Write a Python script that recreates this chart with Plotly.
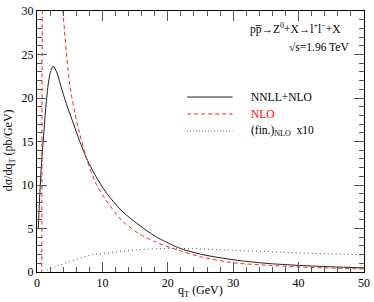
import plotly.graph_objects as go

# NNLL+NLO (solid)
qt_nnll = [0.2, 0.4, 0.7, 1.0, 1.3, 1.7, 2.0, 2.46, 3.0, 3.6, 4.5, 5.6, 6.5, 7.5, 8.0, 9.0, 10.5, 13.0,
           15.6, 18.1, 21.6, 25.0, 30.1, 35.0, 40.1, 45.0, 50.0]
y_nnll = [5.0, 8.5, 12.6, 15.5, 18.5, 21.5, 22.8, 23.65, 23.0, 21.5, 19.3, 17.0, 15.1, 13.2, 12.4, 11.0, 9.2, 7.0,
          5.4, 4.1, 2.8, 2.05, 1.4, 1.0, 0.76, 0.6, 0.47]

# NLO (dashed) - diverges at small qT
qt_nlo = [0.65, 0.72, 0.8, 0.95, 1.5, 2.5, 3.97, 5.0, 6.1, 7.75, 9.0, 10.5, 13.0, 15.6, 18.1, 21.6,
          25.0, 30.1, 35.0, 40.1, 45.0, 50.0]
y_nlo = [-5.0, 0.0, 30.0, 55.0, 70.0, 50.0, 30.0, 21.5, 17.2, 12.6, 10.2, 8.3, 5.9, 4.4, 3.45, 2.5,
         1.75, 1.05, 0.78, 0.58, 0.45, 0.35]

# (fin.)_NLO x10 (dotted)
qt_fin = [1.5, 3.0, 5.0, 8.0, 10.0, 14.5, 19.6, 25.0, 29.7, 35.0, 39.7, 45.0, 50.0]
y_fin = [0.2, 0.65, 1.2, 1.9, 2.1, 2.5, 2.7, 2.65, 2.5, 2.35, 2.2, 2.08, 1.96]

x_ticks = [0, 10, 20, 30, 40, 50]
y_ticks = [0, 5, 10, 15, 20, 25, 30]

FONT = "Liberation Serif"

fig = go.Figure()
fig.add_trace(go.Scatter(x=qt_nnll, y=y_nnll, mode="lines",
                         line=dict(color="#222222", width=1, shape="spline", smoothing=0.8), showlegend=False))
fig.add_trace(go.Scatter(x=qt_nlo, y=y_nlo, mode="lines", line=dict(color="#ff2020", width=1, dash="4px,3px",
                         shape="spline", smoothing=0.6), showlegend=False))
fig.add_trace(go.Scatter(x=qt_fin, y=y_fin, mode="lines", line=dict(color="#555555", width=1, dash="1px,3px",
                         shape="spline"), showlegend=False))

L, R, T, B = 37, 6, 4, 29.5
W, H = 374, 302
pw, ph = W - L - R, H - T - B

def px(xp):
    return (xp - L) / pw

def py(yp):
    return (H - B - yp) / ph

axis_common = dict(showgrid=False, zeroline=False, showline=True, linecolor="black", linewidth=1,
                   mirror="ticks", ticks="inside", ticklen=10, tickcolor="#555555", tickwidth=1,
                   ticklabeloverflow="allow",
                   tickfont=dict(family=FONT, size=12, color="black"))

fig.update_xaxes(range=[0, 50], tickvals=x_ticks, ticktext=[str(v) for v in x_ticks],
                 minor=dict(dtick=2, tick0=0, ticks="inside", ticklen=5, tickcolor="#555555", tickwidth=1),
                 **axis_common)
fig.update_yaxes(range=[0, 30], tickvals=y_ticks, ticktext=[str(v) for v in y_ticks],
                 minor=dict(dtick=1, tick0=0, ticks="inside", ticklen=5, tickcolor="#555555", tickwidth=1),
                 **axis_common)

shapes = []
legend_rows = [
    (92.5, "NNLL+NLO", dict(color="#222222", width=1), "black"),
    (110.0, "NLO", dict(color="#ff2020", width=1, dash="4px,3px"), "#ff0000"),
    (127.5, "(fin.)<sub>NLO</sub>  x10", dict(color="#555555", width=1, dash="1px,2px"), "black"),
]
annotations = []
for yp, label, ln, tc in legend_rows:
    shapes.append(dict(type="line", xref="paper", yref="paper", x0=px(189), x1=px(235), y0=py(yp), y1=py(yp),
                       line=ln))
    annotations.append(dict(xref="paper", yref="paper", x=px(252), y=py(yp), xanchor="left", yanchor="middle",
                            text=label, showarrow=False, font=dict(family=FONT, size=11.5, color=tc)))

annotations.append(dict(xref="paper", yref="paper", x=px(251), y=py(22.5), xanchor="left", yanchor="middle",
                        text="pp\u0305\u2192Z<sup>0</sup>+X\u2192l<sup>+</sup>l<sup>\u2212</sup>+X", showarrow=False,
                        font=dict(family=FONT, size=11.5, color="black")))
annotations.append(dict(xref="paper", yref="paper", x=px(355), y=py(41.5), xanchor="right", yanchor="middle",
                        text="\u221as=1.96 TeV", showarrow=False, font=dict(family=FONT, size=11.5, color="black")))
annotations.append(dict(xref="paper", yref="paper", x=px(202.5), y=py(292), xanchor="center", yanchor="middle",
                        text="q<sub>T</sub> (GeV)", showarrow=False, font=dict(family=FONT, size=12, color="black")))
annotations.append(dict(xref="paper", yref="paper", x=px(9), y=py(147), xanchor="center", yanchor="middle",
                        text="d\u03c3/dq<sub>T</sub> (pb/GeV)", textangle=-90, showarrow=False,
                        font=dict(family=FONT, size=12, color="black")))

fig.update_layout(width=W, height=H, margin=dict(l=L, r=R, t=T, b=B, pad=0), plot_bgcolor="white",
                  paper_bgcolor="white", shapes=shapes, annotations=annotations, showlegend=False)

fig.write_html("out.html", config={"displayModeBar": False},
               post_script="document.body.style.margin='0';document.body.style.padding='0';")
